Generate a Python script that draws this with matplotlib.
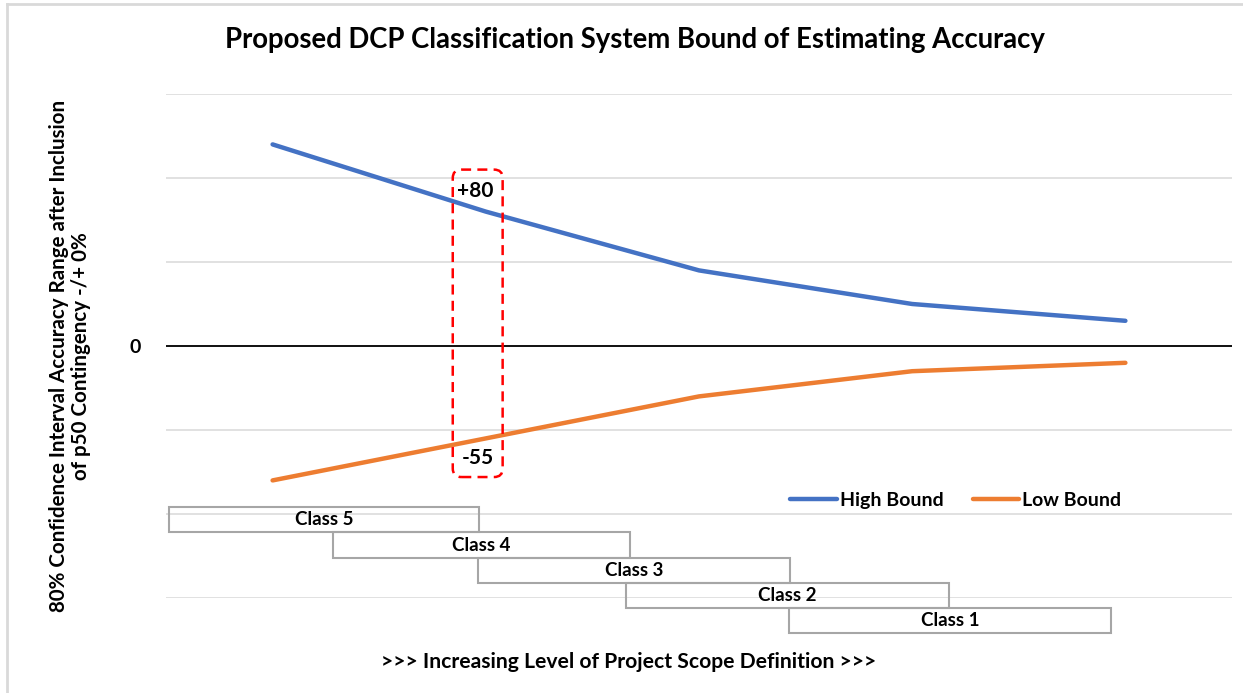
import numpy as np
import matplotlib
matplotlib.use("Agg")
import matplotlib.pyplot as plt
from matplotlib.patches import Rectangle, FancyBboxPatch
from matplotlib.lines import Line2D

plt.rcParams['font.family'] = ['Lato', 'DejaVu Sans']
plt.rcParams['font.weight'] = 'bold'

# accuracy range per estimate class step (percent)
stages = [0, 1, 2, 3, 4]
high_bound = [120, 80, 45, 25, 15]
low_bound = [-80, -55, -30, -15, -10]

# class bars under the curves: label, start/end along the scope axis
class_labels = ["Class 5", "Class 4", "Class 3", "Class 2", "Class 1"]
class_start = [-0.486, 0.282, 0.965, 1.658, 2.422]
class_end = [0.970, 1.676, 2.427, 3.174, 3.932]

fig = plt.figure(figsize=(12.43, 6.93), dpi=100)
ax = fig.add_axes([166 / 1243, 95 / 693, 1066 / 1243, 504 / 693])

ax.plot(stages, high_bound, color='#4472C4', lw=3.2, solid_capstyle='round', label='High Bound')
ax.plot(stages, low_bound, color='#ED7D31', lw=3.2, solid_capstyle='round', label='Low Bound')

ax.set_xlim(-0.5, 4.5)
ax.set_ylim(-150, 150)
ax.set_xticks([])
yt = np.arange(-150, 151, 50)
ax.set_yticks(yt)
ax.set_yticklabels(['0' if v == 0 else '' for v in yt], fontsize=14, fontweight='bold')
ax.tick_params(axis='y', length=0, pad=18)
ax.grid(axis='y', color='#d9d9d9', lw=1.1)
ax.set_axisbelow(True)
ax.axhline(0, color='black', lw=1.3, zorder=1.5)
for s in ax.spines.values():
    s.set_visible(False)

# class boxes stacked downward
row_h = 15
for i, (lab, x0, x1) in enumerate(zip(class_labels, class_start, class_end)):
    top = -96 - row_h * i
    ax.add_patch(Rectangle((x0, top - row_h), x1 - x0, row_h, facecolor='none',
                           edgecolor='#a6a6a6', lw=1.5, clip_on=False, zorder=3))
    ax.text((x0 + x1) / 2, top - row_h / 2, lab, ha='center', va='center',
            fontsize=13.5, fontweight='bold', clip_on=False, zorder=4)

# dashed callout around the class 4 values
px_x = 1066 / 5
px_y = 504 / 300
box = FancyBboxPatch((0.845, -78), 1.079 - 0.845, 105 + 78,
                     boxstyle='round,pad=0,rounding_size=0.04',
                     mutation_aspect=px_x / px_y,
                     fill=False, edgecolor='#FF0000', lw=1.8,
                     linestyle=(0, (4, 2.5)), zorder=5, clip_on=False)
ax.add_patch(box)
ax.annotate(f"+{high_bound[1]}", (stages[1], high_bound[1]), xytext=(-8, 15),
            textcoords='offset points', ha='center', va='center', fontsize=15, fontweight='bold')
ax.annotate(f"{low_bound[1]}", (stages[1], low_bound[1]), xytext=(-6, -14),
            textcoords='offset points', ha='center', va='center', fontsize=15, fontweight='bold')

leg = ax.legend(loc='center', bbox_to_anchor=(0.741, 0.194), ncol=2, frameon=False,
                fontsize=14, handlelength=2.4, columnspacing=1.5, handletextpad=0.15)
for t in leg.get_texts():
    t.set_fontweight('bold')

fig.text(0.511, 1 - 40 / 693, "Proposed DCP Classification System Bound of Estimating Accuracy",
         ha='center', va='center', fontsize=19.8, fontweight='bold')
fig.text(629 / 1243, 1 - 662 / 693, ">>> Increasing Level of Project Scope Definition >>>",
         ha='center', va='center', fontsize=15.2, fontweight='bold')
fig.text(70 / 1243, 1 - 356 / 693,
         "80% Confidence Interval Accuracy Range after Inclusion\nof p50 Contingency -/+ 0%",
         ha='center', va='center', rotation=90, multialignment='center',
         fontsize=14.8, fontweight='bold', linespacing=1.1)

# chart area border (top and left edges)
fig.add_artist(Line2D([7 / 1243, 1], [1 - 4 / 693, 1 - 4 / 693], color='#d9d9d9', lw=2))
fig.add_artist(Line2D([7 / 1243, 7 / 1243], [0, 1 - 4 / 693], color='#d9d9d9', lw=2))

fig.savefig("out.png", dpi=100)
